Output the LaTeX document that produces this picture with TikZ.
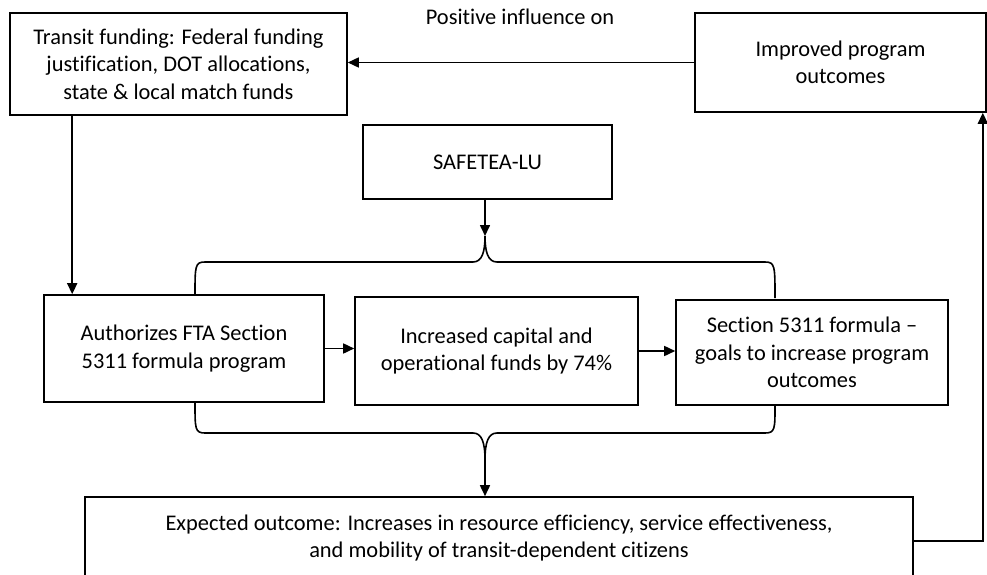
\documentclass[tikz,border=0pt]{standalone}
\usepackage{fontspec}
\setmainfont{Carlito}[Ligatures=NoCommon]
\usetikzlibrary{arrows.meta}
\begin{document}
\begin{tikzpicture}[x=1pt,y=-1pt,
  box/.style={draw, line width=1.6pt, align=center, inner sep=0pt,
    font=\fontsize{22.4}{27.5}\selectfont},
  conn/.style={line width=1.6pt},
  arr/.style={conn, -{Triangle[length=11pt,width=10pt]}},
  lbl/.style={font=\fontsize{22.4}{27.5}\selectfont}]
\useasboundingbox (0,0) rectangle (987,575);
% boxes
\node[box, minimum width=337pt, minimum height=102pt] (fund) at (178.5,64)
  {Transit funding: Federal funding\\justification, DOT allocations,\\state \& local match funds};
\node[box, minimum width=291pt, minimum height=99pt] (impr) at (840.5,62.5)
  {Improved program\\outcomes};
\node[box, minimum width=249pt, minimum height=74pt] (safe) at (487.5,162)
  {SAFETEA-LU};
\node[box, minimum width=280pt, minimum height=107pt] (auth) at (184,348.5)
  {Authorizes FTA Section\\5311 formula program};
\node[box, minimum width=283pt, minimum height=108pt] (incr) at (496.5,351)
  {Increased capital and\\operational funds by 74\%};
\node[box, minimum width=272pt, minimum height=105pt] (sect) at (812,352.5)
  {Section 5311 formula --\\goals to increase program\\outcomes};
\node[box, minimum width=828pt, minimum height=82pt] (exp) at (499,538)
  {Expected outcome: Increases in resource efficiency, service effectiveness,\\and mobility of transit-dependent citizens};
\node[lbl] (pos) at (520,17) {Positive influence on};
% braces
\coordinate (tpeak) at (485,236);
\coordinate (bdip) at (485,460);
\draw[conn] (195,295) .. controls (195,266) and (195,262) .. (205,262) -- (473,262)
  .. controls (482,262) and (485,252) .. (tpeak)
  .. controls (485,252) and (488,262) .. (497,262) -- (765,262)
  .. controls (775,262) and (775,266) .. (775,298);
\draw[conn] (195,403) .. controls (195,429) and (195,433) .. (205,433) -- (473,433)
  .. controls (482,433) and (485,443) .. (bdip)
  .. controls (485,443) and (488,433) .. (497,433) -- (765,433)
  .. controls (775,433) and (775,429) .. (775,406);
% connectors
\draw[arr] (impr.west) -- (impr.west -| fund.east);
\draw[arr] ([xshift=63pt]fund.south west) -- ([xshift=29pt]auth.north west);
\draw[arr] (safe.south -| tpeak) -- (tpeak);
\draw[arr] (auth.east) -- (auth.east -| incr.west);
\draw[arr] (incr.east) -- (incr.east -| sect.west);
\draw[arr] (bdip) -- (bdip |- exp.north);
\draw[arr] ([yshift=-3pt]exp.east) -| ([xshift=-4pt]impr.south east);
\end{tikzpicture}
\end{document}
